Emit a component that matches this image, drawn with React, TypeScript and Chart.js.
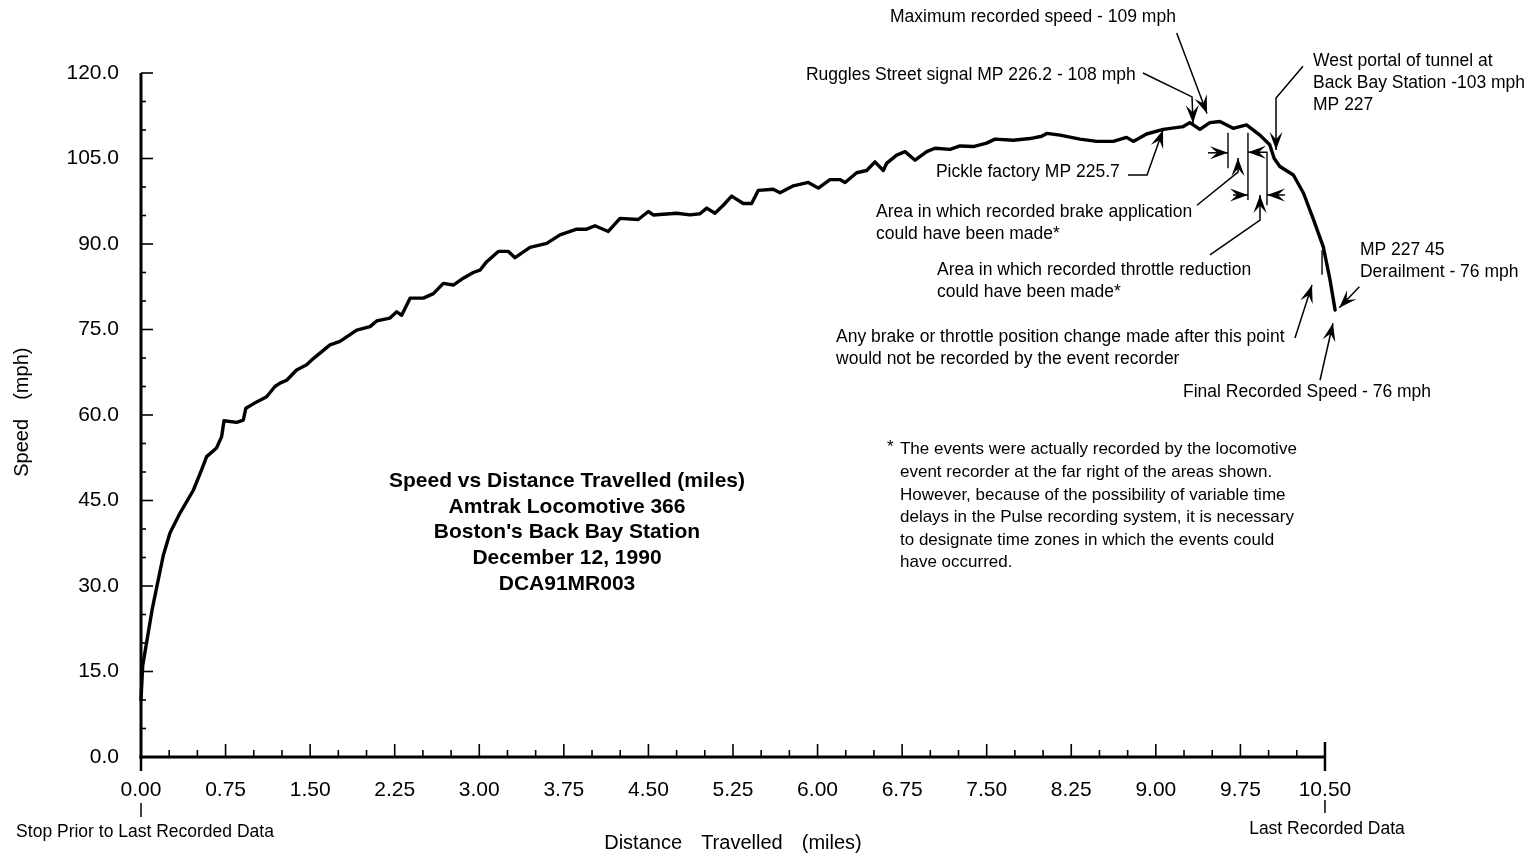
import React, { useEffect, useRef } from "react";
import { Chart, registerables } from "chart.js";
Chart.register(...registerables);

const FONT = '"Liberation Sans", Arial, Helvetica, sans-serif';

// Distance travelled (miles) and recorded speed (mph)
const distanceMiles = [
  0, 0.015, 0.1, 0.198, 0.257, 0.346, 0.464, 0.538, 0.582, 0.67, 0.715, 0.736, 0.848, 0.907, 0.93,
  1.026, 1.114, 1.188, 1.233, 1.292, 1.38, 1.469, 1.528, 1.676, 1.765, 1.913, 2.031, 2.09, 2.208,
  2.268, 2.312, 2.386, 2.504, 2.593, 2.681, 2.77, 2.858, 2.947, 3.006, 3.066, 3.169, 3.258, 3.317,
  3.45, 3.598, 3.716, 3.864, 3.953, 4.026, 4.144, 4.248, 4.41, 4.499, 4.543, 4.75, 4.869, 4.957,
  5.017, 5.09, 5.164, 5.238, 5.341, 5.415, 5.474, 5.607, 5.667, 5.785, 5.918, 6.007, 6.11, 6.199,
  6.244, 6.347, 6.436, 6.509, 6.583, 6.614, 6.702, 6.776, 6.865, 6.968, 7.042, 7.175, 7.263, 7.381,
  7.499, 7.574, 7.736, 7.884, 7.988, 8.032, 8.15, 8.327, 8.475, 8.622, 8.741, 8.8, 8.918, 9.066,
  9.243, 9.302, 9.391, 9.479, 9.568, 9.686, 9.804, 9.923, 10.01, 10.05, 10.1, 10.22, 10.31, 10.4,
  10.485, 10.545, 10.59,
];
const speedMph = [
  10, 16, 26, 35.4, 39.3, 42.8, 46.8, 50.4, 52.7, 54.2, 56.2, 59, 58.7, 59.1, 61.2,
  62.3, 63.2, 65, 65.6, 66.1, 67.9, 68.8, 69.9, 72.3, 72.9, 74.9, 75.5, 76.5, 77,
  78.1, 77.5, 80.5, 80.5, 81.3, 83.1, 82.8, 84, 85, 85.4, 86.9, 88.7, 88.7, 87.6,
  89.4, 90.1, 91.6, 92.6, 92.6, 93.2, 92.2, 94.5, 94.3, 95.7, 95.1, 95.4, 95.1, 95.3,
  96.3, 95.4, 96.8, 98.4, 97.1, 97.1, 99.4, 99.6, 99, 100.2, 100.8, 99.8, 101.3, 101.3,
  100.8, 102.5, 102.9, 104.4, 102.9, 104.2, 105.6, 106.2, 104.7, 106.2, 106.8, 106.6, 107.2, 107.1,
  107.7, 108.4, 108.2, 108.5, 108.9, 109.4, 109.1, 108.4, 108, 108, 108.7, 108, 109.3, 110.1,
  110.6, 111.3, 110.1, 111.3, 111.5, 110.3, 110.9, 109.1, 107.4, 105, 103.6, 102.1, 98.9, 94.2,
  89.5, 83.7, 78.4,
];

const xTickValues = [0, 0.75, 1.5, 2.25, 3, 3.75, 4.5, 5.25, 6, 6.75, 7.5, 8.25, 9, 9.75, 10.5];
const yTickValues = [0, 15, 30, 45, 60, 75, 90, 105, 120];
const X_AXIS_END = 10.5;
const X_SCALE_MAX = 10.62;

const titleLines = [
  "Speed vs Distance Travelled (miles)",
  "Amtrak Locomotive 366",
  "Boston's Back Bay Station",
  "December 12, 1990",
  "DCA91MR003",
];

const footnoteLines = [
  "The events were actually recorded by the locomotive",
  "event recorder at the far right of the areas shown.",
  "However, because of the possibility of variable time",
  "delays in the Pulse recording system, it is necessary",
  "to designate time zones in which the events could",
  "have occurred.",
];

// Text notes, anchored in data units (miles, mph)
const noteTexts = [
  { lines: ["Maximum recorded speed - 109 mph"], at: [6.642, 129.8] },
  { lines: ["Ruggles Street signal MP 226.2 - 108 mph"], at: [5.897, 119.6] },
  { lines: ["West portal of tunnel at", "Back Bay Station -103 mph", "MP 227"], at: [10.394, 122.1] },
  { lines: ["Pickle factory MP 225.7"], at: [7.05, 102.6] },
  { lines: ["Area in which recorded brake application", "could have been made*"], at: [6.518, 95.6] },
  { lines: ["Area in which recorded throttle reduction", "could have been made*"], at: [7.059, 85.4] },
  { lines: ["Any brake or throttle position change made after this point", "would not be recorded by the event recorder"], at: [6.164, 73.7] },
  { lines: ["MP 227 45", "Derailment - 76 mph"], at: [10.81, 88.9] },
  { lines: ["Final Recorded Speed - 76 mph"], at: [9.241, 64.0] },
];

// Arrow polylines (miles, mph); the head is at the last point
const noteArrows = [
  [[9.185, 127.0], [9.454, 112.9]],
  [[8.886, 120.0], [9.321, 115.8], [9.33, 111.2]],
  [[10.305, 121.2], [10.066, 115.6], [10.066, 106.5]],
  [[8.753, 102.1], [8.922, 102.1], [9.064, 110.0]],
  [[9.365, 96.8], [9.729, 102.6], [9.729, 105.1]],
  [[9.48, 88.1], [9.924, 94.2], [9.924, 98.6]],
  [[10.234, 73.5], [10.385, 82.8]],
  [[10.805, 82.5], [10.627, 78.8]],
  [[10.456, 66.1], [10.571, 76.1]],
  [[9.463, 106.0], [9.64, 106.0]],
  [[9.99, 106.1], [9.817, 106.1]],
  [[9.684, 98.6], [9.817, 98.6]],
  [[10.145, 98.6], [9.986, 98.6]],
];

// Vertical zone markers (miles, mph from, mph to)
const zoneMarkers = [
  [9.64, 109.5, 103.3],
  [9.817, 109.5, 97.7],
  [9.986, 106.1, 96.8],
  [10.474, 88.9, 84.6],
];

function arrowHead(ctx: CanvasRenderingContext2D, fx: number, fy: number, tx: number, ty: number, L = 15, W = 11) {
  const ang = Math.atan2(ty - fy, tx - fx);
  const ux = Math.cos(ang), uy = Math.sin(ang);
  const nx = -uy, ny = ux;
  const bx = tx - ux * L, by = ty - uy * L;
  const mx = tx - ux * L * 0.6, my = ty - uy * L * 0.6;
  ctx.beginPath();
  ctx.moveTo(tx, ty);
  ctx.lineTo(bx + (nx * W) / 2, by + (ny * W) / 2);
  ctx.lineTo(mx, my);
  ctx.lineTo(bx - (nx * W) / 2, by - (ny * W) / 2);
  ctx.closePath();
  ctx.fill();
}

function seg(ctx: CanvasRenderingContext2D, x1: number, y1: number, x2: number, y2: number) {
  ctx.beginPath();
  ctx.moveTo(x1, y1);
  ctx.lineTo(x2, y2);
  ctx.stroke();
}

const decorPlugin = {
  id: "decor",
  beforeDatasetsDraw(chart: any) {
    const { ctx, chartArea: a, scales } = chart;
    const x = scales.x, y = scales.y;
    const xEnd = x.getPixelForValue(X_AXIS_END);
    const x0 = x.getPixelForValue(0);
    ctx.save();
    ctx.strokeStyle = "#000";
    ctx.fillStyle = "#000";
    ctx.lineWidth = 3;
    seg(ctx, x0, a.top, x0, a.bottom + 1.5);
    seg(ctx, x0 - 1.5, a.bottom, xEnd, a.bottom);
    ctx.lineWidth = 1.6;
    for (let v = 0; v <= 120; v += 5) {
      const py = y.getPixelForValue(v);
      seg(ctx, x0, py, x0 + (v % 15 === 0 ? 12 : 5), py);
    }
    for (let i = 1; i < 42; i++) {
      const px = x.getPixelForValue(i * 0.25);
      seg(ctx, px, a.bottom, px, a.bottom - (i % 3 === 0 ? 13 : 7));
    }
    ctx.lineWidth = 2.5;
    seg(ctx, xEnd, a.bottom - 15, xEnd, a.bottom + 14);
    seg(ctx, x0, a.bottom, x0, a.bottom + 14);
    ctx.lineWidth = 1.5;
    seg(ctx, x0, a.bottom + 46, x0, a.bottom + 60);
    seg(ctx, xEnd, a.bottom + 43, xEnd, a.bottom + 56);

    ctx.textBaseline = "middle";
    ctx.font = `17.5px ${FONT}`;
    ctx.textAlign = "center";
    ctx.fillText("Stop Prior to Last Recorded Data", x0 + 4, a.bottom + 75);
    ctx.fillText("Last Recorded Data", xEnd + 2, a.bottom + 72);

    ctx.font = `20px ${FONT}`;
    (ctx as any).wordSpacing = "4px";
    ctx.fillText("Distance  Travelled  (miles)", x.getPixelForValue(5.25), a.bottom + 86);
    ctx.save();
    ctx.translate(22, y.getPixelForValue(60.5));
    ctx.rotate(-Math.PI / 2);
    ctx.fillText("Speed  (mph)", 0, 0);
    ctx.restore();
    (ctx as any).wordSpacing = "0px";
    ctx.restore();
  },
  afterDatasetsDraw(chart: any) {
    const { ctx, scales } = chart;
    const x = scales.x, y = scales.y;
    const P = (d: number, v: number) => [x.getPixelForValue(d), y.getPixelForValue(v)];
    ctx.save();
    ctx.fillStyle = "#000";
    ctx.strokeStyle = "#000";
    ctx.textBaseline = "middle";

    // title block
    ctx.font = `bold 21px ${FONT}`;
    ctx.textAlign = "center";
    const [tx, ty] = P(3.778, 48.4);
    titleLines.forEach((t, i) => ctx.fillText(t, tx, ty + i * 25.7));

    // footnote
    ctx.font = `17px ${FONT}`;
    ctx.textAlign = "left";
    const [fx, fy] = P(6.731, 53.9);
    ctx.fillText("*", fx - 13, fy - 2);
    footnoteLines.forEach((t, i) => ctx.fillText(t, fx, fy + i * 22.6));

    // notes
    ctx.font = `17.5px ${FONT}`;
    noteTexts.forEach((n) => {
      const [px, py] = P(n.at[0], n.at[1]);
      n.lines.forEach((t, i) => ctx.fillText(t, px, py + i * 22.3));
    });

    // markers
    ctx.lineWidth = 1.4;
    zoneMarkers.forEach(([d, v1, v2]) => {
      const [px, p1] = P(d, v1);
      const [, p2] = P(d, v2);
      seg(ctx, px, p1, px, p2);
    });

    // arrows
    ctx.lineWidth = 1.5;
    noteArrows.forEach((pts) => {
      const pp = pts.map(([d, v]) => P(d, v));
      ctx.beginPath();
      ctx.moveTo(pp[0][0], pp[0][1]);
      for (let i = 1; i < pp.length; i++) ctx.lineTo(pp[i][0], pp[i][1]);
      ctx.stroke();
      const a = pp[pp.length - 2], b = pp[pp.length - 1];
      arrowHead(ctx, a[0], a[1], b[0], b[1], 18, 13);
    });
    ctx.restore();
  },
};

export default function App() {
  const ref = useRef<HTMLCanvasElement | null>(null);
  useEffect(() => {
    if (!ref.current) return;
    const chart = new Chart(ref.current, {
      type: "line",
      data: {
        datasets: [
          {
            data: distanceMiles.map((d, i) => ({ x: d, y: speedMph[i] })),
            borderColor: "#000",
            borderWidth: 3.4,
            pointRadius: 0,
            tension: 0,
            fill: false,
            clip: false as any,
            borderJoinStyle: "round",
            borderCapStyle: "round",
          } as any,
        ],
      },
      options: {
        animation: false,
        responsive: true,
        maintainAspectRatio: false,
        layout: { padding: { top: 73, right: 194.5, left: 0, bottom: 0 } },
        plugins: { legend: { display: false }, tooltip: { enabled: false }, title: { display: false } },
        scales: {
          x: {
            type: "linear",
            min: 0,
            max: X_SCALE_MAX,
            grid: { display: false, drawTicks: false },
            border: { display: false },
            afterBuildTicks: (s: any) => {
              s.ticks = xTickValues.map((v) => ({ value: v }));
            },
            afterFit: (s: any) => {
              s.height = 100;
            },
            ticks: {
              autoSkip: false,
              maxRotation: 0,
              padding: 21,
              color: "#000",
              font: { family: FONT, size: 21 },
              callback: (v: any) => Number(v).toFixed(2),
            },
          },
          y: {
            type: "linear",
            min: 0,
            max: 120,
            grid: { display: false, drawTicks: false },
            border: { display: false },
            afterBuildTicks: (s: any) => {
              s.ticks = yTickValues.map((v) => ({ value: v }));
            },
            afterFit: (s: any) => {
              s.width = 141;
            },
            ticks: {
              autoSkip: false,
              padding: 22,
              color: "#000",
              font: { family: FONT, size: 21 },
              callback: (v: any) => Number(v).toFixed(1),
            },
          },
        },
      },
      plugins: [decorPlugin],
    });
    return () => chart.destroy();
  }, []);
  return (
    <div style={{ position: "fixed", left: 0, top: 0, width: 1533, height: 857, background: "#fff" }}>
      <canvas ref={ref} />
    </div>
  );
}
